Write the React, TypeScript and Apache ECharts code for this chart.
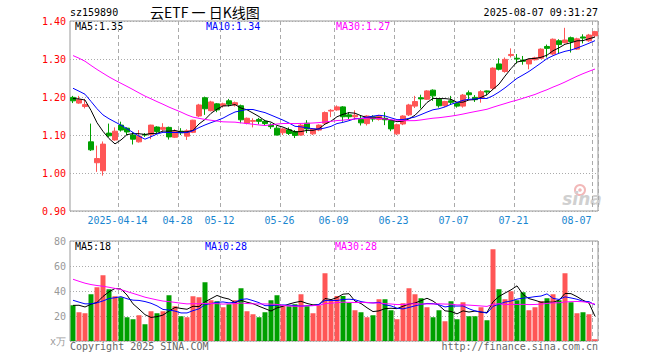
import React, { useEffect, useRef } from "react";
import * as echarts from "echarts";

const dates = [
  "2025-04-01","2025-04-02","2025-04-03","2025-04-07","2025-04-08","2025-04-09","2025-04-10","2025-04-11",
  "2025-04-14","2025-04-15","2025-04-16","2025-04-17","2025-04-18","2025-04-21","2025-04-22","2025-04-23",
  "2025-04-24","2025-04-25","2025-04-28","2025-04-29","2025-04-30","2025-05-06","2025-05-07","2025-05-08",
  "2025-05-09","2025-05-12","2025-05-13","2025-05-14","2025-05-15","2025-05-16","2025-05-19","2025-05-20",
  "2025-05-21","2025-05-22","2025-05-23","2025-05-26","2025-05-27","2025-05-28","2025-05-29","2025-05-30",
  "2025-06-03","2025-06-04","2025-06-05","2025-06-06","2025-06-09","2025-06-10","2025-06-11","2025-06-12",
  "2025-06-13","2025-06-16","2025-06-17","2025-06-18","2025-06-19","2025-06-20","2025-06-23","2025-06-24",
  "2025-06-25","2025-06-26","2025-06-27","2025-06-30","2025-07-01","2025-07-02","2025-07-03","2025-07-04",
  "2025-07-07","2025-07-08","2025-07-09","2025-07-10","2025-07-11","2025-07-14","2025-07-15","2025-07-16",
  "2025-07-17","2025-07-18","2025-07-21","2025-07-22","2025-07-23","2025-07-24","2025-07-25","2025-07-28",
  "2025-07-29","2025-07-30","2025-07-31","2025-08-01","2025-08-04","2025-08-05","2025-08-06","2025-08-07",
];

const opens = [
  1.199,1.184,1.175,1.082,1.027,1.006,1.105,1.087,1.126,1.118,1.100,1.082,1.101,1.101,1.121,1.115,
  1.120,1.094,1.110,1.097,1.107,1.150,1.198,1.164,1.182,1.177,1.190,1.179,1.177,1.131,1.136,1.141,
  1.136,1.126,1.118,1.106,1.114,1.109,1.100,1.131,1.103,1.113,1.131,1.163,1.166,1.174,1.153,1.148,
  1.141,1.130,1.148,1.141,1.144,1.138,1.103,1.129,1.153,1.176,1.198,1.194,1.218,1.194,1.177,1.190,
  1.183,1.176,1.211,1.199,1.197,1.216,1.223,1.287,1.267,1.309,1.302,1.297,1.287,1.298,1.302,1.333,
  1.313,1.348,1.343,1.356,1.326,1.358,1.348,1.361,
];
const closes = [
  1.190,1.193,1.180,1.061,1.038,1.076,1.098,1.110,1.113,1.108,1.089,1.097,1.100,1.126,1.109,1.120,
  1.095,1.110,1.106,1.111,1.139,1.179,1.169,1.187,1.166,1.182,1.181,1.185,1.140,1.144,1.138,1.136,
  1.130,1.122,1.100,1.116,1.104,1.099,1.126,1.116,1.116,1.126,1.159,1.165,1.174,1.148,1.148,1.152,
  1.132,1.150,1.142,1.150,1.140,1.116,1.127,1.150,1.179,1.188,1.195,1.216,1.203,1.177,1.188,1.186,
  1.176,1.205,1.206,1.193,1.214,1.213,1.276,1.273,1.299,1.312,1.300,1.294,1.299,1.303,1.326,1.328,
  1.352,1.338,1.350,1.346,1.353,1.355,1.363,1.372,
];
const lows = [
  1.184,1.182,1.170,1.058,1.003,0.993,1.094,1.085,1.109,1.100,1.075,1.080,1.095,1.089,1.105,1.110,
  1.088,1.092,1.100,1.087,1.105,1.147,1.153,1.162,1.160,1.172,1.175,1.175,1.131,1.128,1.120,1.128,
  1.125,1.116,1.099,1.100,1.100,1.092,1.098,1.105,1.100,1.110,1.128,1.147,1.164,1.135,1.142,1.140,
  1.125,1.125,1.135,1.138,1.126,1.110,1.100,1.126,1.150,1.171,1.170,1.192,1.190,1.172,1.174,1.179,
  1.172,1.172,1.194,1.187,1.185,1.204,1.218,1.270,1.264,1.304,1.288,1.285,1.273,1.296,1.300,1.304,
  1.310,1.315,1.341,1.317,1.324,1.341,1.345,1.358,
];
const highs = [
  1.203,1.203,1.195,1.130,1.072,1.083,1.130,1.120,1.135,1.120,1.108,1.113,1.105,1.127,1.123,1.131,
  1.122,1.115,1.118,1.115,1.140,1.182,1.201,1.190,1.184,1.185,1.195,1.188,1.180,1.146,1.144,1.145,
  1.140,1.131,1.124,1.118,1.120,1.113,1.130,1.139,1.118,1.128,1.162,1.168,1.178,1.176,1.160,1.165,
  1.150,1.152,1.152,1.153,1.160,1.140,1.130,1.152,1.182,1.203,1.206,1.218,1.220,1.196,1.190,1.203,
  1.186,1.208,1.217,1.205,1.218,1.217,1.278,1.302,1.304,1.328,1.313,1.308,1.301,1.306,1.328,1.338,
  1.354,1.352,1.382,1.359,1.356,1.365,1.366,1.374,
];
// volume, 万
const volumes = [
  28.6,23.0,22.2,37.4,43.0,52.6,41.4,35.8,35.0,19.0,17.4,20.6,13.4,23.8,22.2,23.8,
  36.6,27.8,19.8,19.0,35.8,35.0,47.0,32.6,31.8,27.0,29.4,32.6,42.2,23.8,21.4,19.0,
  23.0,32.6,36.6,27.8,27.8,29.4,37.4,27.8,22.2,28.6,54.2,32.6,36.0,36.0,30.4,24.6,
  23.0,19.0,20.6,33.4,33.4,24.6,17.4,30.2,42.2,37.4,34.2,27.0,19.0,24.6,15.8,31.8,
  17.4,31.0,19.8,19.8,27.0,16.6,73.4,41.4,33.4,39.8,32.6,39.0,24.6,27.0,31.8,34.2,
  37.4,32.6,54.2,31.0,22.2,23.0,21.4,1.4,
];
// sessions before the visible window, estimated from where the MA lines start
const priorCloses = [
  1.40,1.42,1.39,1.36,1.37,1.39,1.37,1.36,1.35,1.34,1.36,1.35,1.34,1.33,1.33,
  1.32,1.31,1.30,1.33,1.32,1.27,1.26,1.25,1.23,1.24,1.198,1.195,1.197,1.200,
];
const priorVolumes = [
  72,68,70,66,70.2,66,63,64.2,65,62,65,60,57,54,52,50,46,40,35,30.6,38,36,37,35,37.5,22.5,29.2,26.4,35.8,
];
const labelIndices = [8, 18, 25, 35, 44, 54, 64, 74, 87];
const priceLegend = ["MA5:1.35", "MA10:1.34", "MA30:1.27"];
const volumeLegend = ["MA5:18", "MA10:28", "MA30:28"];

const UP = "#ff5656";
const DOWN = "#00a000";
const MONO = '"DejaVu Sans Mono", monospace';

function movingAverage(prior: number[], values: number[], n: number) {
  const all = prior.concat(values);
  const off = prior.length;
  return values.map((_, i) => {
    let s = 0;
    for (let k = off + i - n + 1; k <= off + i; k++) s += all[k];
    return +(s / n).toFixed(4);
  });
}

export default function App() {
  const ref = useRef<HTMLDivElement>(null);
  useEffect(() => {
    if (!ref.current) return;
    const chart = echarts.init(ref.current, undefined, { renderer: "svg" });
    const showAt = (i: number) => labelIndices.includes(i);
    const ma5 = movingAverage(priorCloses, closes, 5);
    const ma10 = movingAverage(priorCloses, closes, 10);
    const ma30 = movingAverage(priorCloses, closes, 30);
    const vma5 = movingAverage(priorVolumes, volumes, 5);
    const vma10 = movingAverage(priorVolumes, volumes, 10);
    const vma30 = movingAverage(priorVolumes, volumes, 30);
    const splitX = {
      show: true,
      interval: (i: number) => showAt(i),
      lineStyle: { color: "#aaa", type: [4, 3], width: 1 },
    };
    const lineS = (data: number[], color: string, xi: number) => ({
      type: "line",
      data,
      xAxisIndex: xi,
      yAxisIndex: xi,
      symbol: "none",
      lineStyle: { color, width: 1 },
      z: 5,
      silent: true,
    });
    const legendText = (txt: string, x: number, y: number, color: string) => ({
      type: "text",
      x,
      y,
      style: { text: txt, fill: color, font: `10px ${MONO}`, textVerticalAlign: "middle" },
    });
    chart.setOption({
      animation: false,
      backgroundColor: "#fff",
      grid: [
        { left: 70, top: 21, width: 528, height: 190, show: true, borderColor: "#999", borderWidth: 1 },
        { left: 70, top: 241, width: 528, height: 100, show: true, borderColor: "#999", borderWidth: 1 },
      ],
      xAxis: [
        {
          type: "category",
          gridIndex: 0,
          data: dates,
          boundaryGap: true,
          axisLine: { show: false },
          axisTick: { show: false },
          axisLabel: {
            interval: (i: number) => showAt(i),
            formatter: (v: string, i: number) =>
              i === 8 ? v : i === dates.length - 1 ? `{last|${v.slice(5)}}` : v.slice(5),
            color: "#1a86d0",
            fontFamily: MONO,
            fontSize: 10,
            margin: 4,
            padding: [0, 7, 0, 0],
            rich: { last: { padding: [0, 30, 0, 0], color: "#1a86d0", fontFamily: MONO, fontSize: 10 } },
          },
          splitLine: splitX,
        },
        {
          type: "category",
          gridIndex: 1,
          data: dates,
          boundaryGap: true,
          axisLine: { show: false },
          axisTick: { show: false },
          axisLabel: { show: false },
          splitLine: splitX,
        },
      ],
      yAxis: [
        {
          type: "value",
          gridIndex: 0,
          min: 0.9,
          max: 1.4,
          interval: 0.1,
          axisLine: { show: false },
          axisTick: { show: false },
          axisLabel: {
            color: "#f00",
            fontFamily: MONO,
            fontSize: 10,
            margin: 4,
            formatter: (v: number) => v.toFixed(2),
          },
          splitLine: { lineStyle: { color: "#aaa", type: [1, 2] } },
        },
        {
          type: "value",
          gridIndex: 1,
          min: 0,
          max: 80,
          interval: 20,
          axisLine: { show: false },
          axisTick: { show: false },
          axisLabel: {
            color: "#999",
            fontFamily: MONO,
            fontSize: 10,
            margin: 4,
            formatter: (v: number) => (v === 0 ? "x万" : String(v)),
          },
          splitLine: { lineStyle: { color: "#aaa", type: [1, 2] } },
        },
      ],
      series: [
        {
          type: "candlestick",
          xAxisIndex: 0,
          yAxisIndex: 0,
          barWidth: 5,
          data: dates.map((_, i) => [opens[i], closes[i], lows[i], highs[i]]),
          itemStyle: { color: UP, color0: DOWN, borderColor: UP, borderColor0: DOWN, borderWidth: 1 },
          z: 3,
          silent: true,
        },
        lineS(ma5, "#000", 0),
        lineS(ma10, "#0000ff", 0),
        lineS(ma30, "#ff00ff", 0),
        {
          type: "bar",
          xAxisIndex: 1,
          yAxisIndex: 1,
          barWidth: 5,
          data: volumes.map((v, i) => ({
            value: v,
            itemStyle: { color: closes[i] >= opens[i] ? UP : DOWN },
          })),
          z: 3,
          silent: true,
        },
        lineS(vma5, "#000", 1),
        lineS(vma10, "#0000ff", 1),
        lineS(vma30, "#ff00ff", 1),
      ],
      graphic: [
        legendText("sz159890", 70, 12, "#000"),
        {
          type: "text",
          x: 150,
          y: 12,
          style: { text: "云ETF 一 日K线图", fill: "#000", font: '14px "Noto Sans CJK SC"', textVerticalAlign: "middle" },
        },
        {
          type: "text",
          x: 598,
          y: 12,
          style: { text: "2025-08-07 09:31:27", fill: "#000", font: `10px ${MONO}`, textAlign: "right", textVerticalAlign: "middle" },
        },
        legendText(priceLegend[0], 75, 26, "#000"),
        legendText(priceLegend[1], 206, 26, "#0000ff"),
        legendText(priceLegend[2], 336, 26, "#ff00ff"),
        legendText(volumeLegend[0], 75, 246, "#000"),
        legendText(volumeLegend[1], 205, 246, "#0000ff"),
        legendText(volumeLegend[2], 335, 246, "#ff00ff"),
        legendText("Copyright 2025 SINA.COM", 70, 346, "#666"),
        {
          type: "text",
          x: 598,
          y: 346,
          style: { text: "http://finance.sina.com.cn", fill: "#666", font: `10px ${MONO}`, textAlign: "right", textVerticalAlign: "middle" },
        },
        {
          type: "group",
          x: 566,
          y: 184,
          silent: true,
          children: [
            { type: "circle", shape: { cx: 14, cy: 6, r: 5 }, style: { fill: "none", stroke: "#f2b8b8", lineWidth: 2 } },
            { type: "circle", shape: { cx: 14, cy: 6, r: 1.8 }, style: { fill: "#f2b8b8" } },
            {
              type: "text",
              x: 16,
              y: 15,
              style: { text: "sina", fill: "#d0d0d0", font: 'italic bold 17px "DejaVu Sans"', textAlign: "center", textVerticalAlign: "middle" },
            },
          ],
        },
      ],
    });
    return () => chart.dispose();
  }, []);
  return <div ref={ref} style={{ position: "absolute", left: 0, top: 0, width: 660, height: 360 }} />;
}
